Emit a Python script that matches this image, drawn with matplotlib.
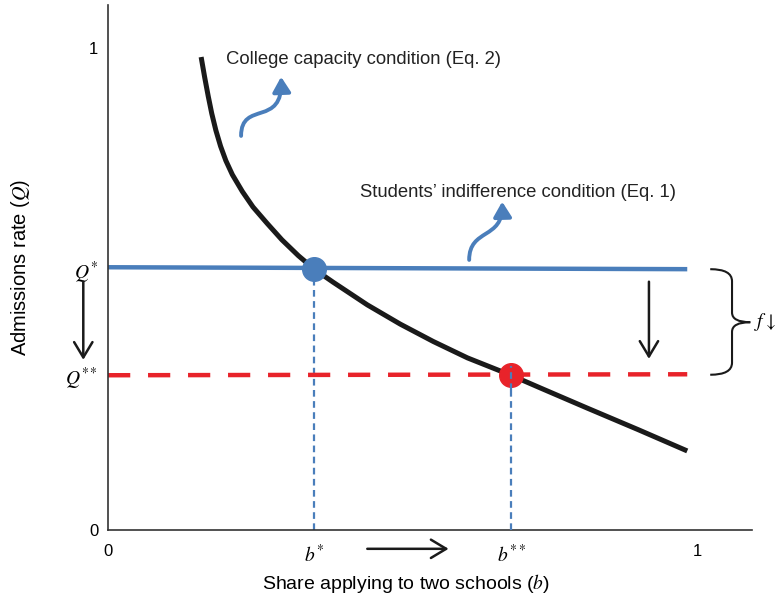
import matplotlib.pyplot as plt
from matplotlib.path import Path
from matplotlib.patches import FancyArrowPatch, PathPatch

plt.rcParams['font.family'] = ['Liberation Sans', 'DejaVu Sans']
plt.rcParams['mathtext.fontset'] = 'stix'

# college capacity curve (Eq. 2)
b_curve = [0.158, 0.164, 0.170, 0.176, 0.183, 0.191, 0.200, 0.211, 0.228, 0.246, 0.270,
           0.295, 0.323, 0.350, 0.382, 0.440, 0.496, 0.552, 0.610, 0.684, 0.733,
           0.813, 0.900, 0.983]
q_curve = [0.981, 0.939, 0.900, 0.864, 0.829, 0.796, 0.766, 0.737, 0.702, 0.670, 0.636,
           0.602, 0.569, 0.541, 0.514, 0.467, 0.427, 0.391, 0.357, 0.321, 0.295,
           0.253, 0.208, 0.164]

# students' indifference lines (Eq. 1): before and after
line_b = [0.0, 0.983]
q_star_line = [0.545, 0.541]
q_2star_line = [0.321, 0.323]

b_star, q_star = 0.350, 0.541
b_2star, q_2star = 0.684, 0.321

xtick_vals = [0, b_star, b_2star, 1]
xtick_labels = ['0', '$b^{*}$', '$b^{**}$', '1']
ytick_vals = [0, q_2star, q_star, 1]
ytick_labels = ['0', '$Q^{**}$', '$Q^{*}$', '1']

blue = '#4a7ebb'
red = '#e8232a'
black = '#1a1a1a'

fig = plt.figure(figsize=(7.75, 5.98), dpi=100)
ax = fig.add_axes([0.1394, 0.1137, 0.831, 0.878])
ax.set_xlim(0, 1.093)
ax.set_ylim(0, 1.089)

# lines
ax.plot(b_curve, q_curve, color=black, lw=3.6, solid_capstyle='butt',
        solid_joinstyle='round', zorder=3)
ax.plot(line_b, q_star_line, color=blue, lw=3.2, solid_capstyle='butt', zorder=2)
ax.plot(line_b, q_2star_line, color=red, lw=3.2, dashes=(5, 4), zorder=2)

# dashed guides to the axis
ax.vlines([b_star], 0, q_star, colors=blue, lw=1.6, linestyles=(0, (3, 2)), zorder=1)
ax.vlines([b_2star], 0, q_2star, colors=blue, lw=1.6, linestyles=(0, (3, 2)), zorder=4)

# equilibrium points
ax.plot([b_star], [q_star], 'o', color=blue, ms=17, zorder=5)
ax.plot([b_2star], [q_2star], 'o', color=red, ms=17, zorder=5)
ax.vlines([b_2star], q_2star - 0.03, q_2star + 0.02, colors=blue, lw=1.6,
          linestyles=(0, (3, 2)), zorder=6)

# labels of the two curves
ax.text(0.200, 0.975, 'College capacity condition (Eq. 2)', fontsize=13.3,
        va='center', ha='left', color='#222222')
ax.text(0.428, 0.701, 'Students\u2019 indifference condition (Eq. 1)', fontsize=13.3,
        va='center', ha='left', color='#222222')

# curly blue arrows
for verts in ([(0.2258, 0.8174), (0.2258, 0.8921), (0.2971, 0.8340), (0.2937, 0.9400)],
              [(0.6129, 0.5602), (0.6129, 0.6266), (0.6706, 0.6017), (0.6689, 0.6810)]):
    p = Path(verts, [Path.MOVETO, Path.CURVE4, Path.CURVE4, Path.CURVE4])
    ax.add_patch(FancyArrowPatch(path=p, arrowstyle='-|>,head_length=0.5,head_width=0.3',
                                 mutation_scale=18, color=blue, lw=2.8, transform=ax.transData))

# black arrows
arrow_kw = dict(arrowstyle='->,head_length=0.5,head_width=0.3', lw=1.8, color=black,
                mutation_scale=22, shrinkA=0, shrinkB=0)
ax.annotate('', xy=(-0.042, 0.353), xytext=(-0.042, 0.515), arrowprops=arrow_kw,
            annotation_clip=False)
ax.annotate('', xy=(0.918, 0.355), xytext=(0.918, 0.515), arrowprops=arrow_kw,
            annotation_clip=False)
ax.annotate('', xy=(0.578, -0.039), xytext=(0.440, -0.039), arrowprops=arrow_kw,
            annotation_clip=False)

# brace for f
top, bot, mid = 0.541, 0.322, 0.431
xa, xb, xc = 1.022, 1.059, 1.090
bv = [(xa, top), (xb, top), (xb, top - 0.025), (xb, mid + 0.02), (xb, mid), (xc, mid),
      (xa, bot), (xb, bot), (xb, bot + 0.025), (xb, mid - 0.02), (xb, mid), (xc, mid)]
bc = [Path.MOVETO, Path.CURVE3, Path.CURVE3, Path.LINETO, Path.CURVE3, Path.CURVE3] * 2
ax.add_patch(PathPatch(Path(bv, bc), fill=False, lw=1.5, color=black, clip_on=False))
ax.text(1.096, mid, r'$f\downarrow$', fontsize=14, va='center', ha='left')

# axes styling
for side in ('top', 'right'):
    ax.spines[side].set_visible(False)
for side in ('left', 'bottom'):
    ax.spines[side].set_linewidth(1.2)
    ax.spines[side].set_color('#333333')
ax.set_xticks(xtick_vals)
ax.set_xticklabels(xtick_labels)
ax.set_yticks(ytick_vals)
ax.set_yticklabels(ytick_labels)
ax.tick_params(axis='x', length=0, pad=10, labelsize=12)
ax.tick_params(axis='y', length=0, pad=7, labelsize=12)
for lab in ax.get_xticklabels() + ax.get_yticklabels():
    if lab.get_text().startswith('$'):
        lab.set_fontsize(14)

ax.set_xlabel('Share applying to two schools ($b$)', fontsize=14)
ax.xaxis.set_label_coords(0.463, -0.08, transform=ax.transAxes)
ax.xaxis.label.set_va('top')
ax.set_ylabel('Admissions rate ($Q$)', fontsize=14.5, labelpad=24)

fig.savefig('out.png', dpi=100)
